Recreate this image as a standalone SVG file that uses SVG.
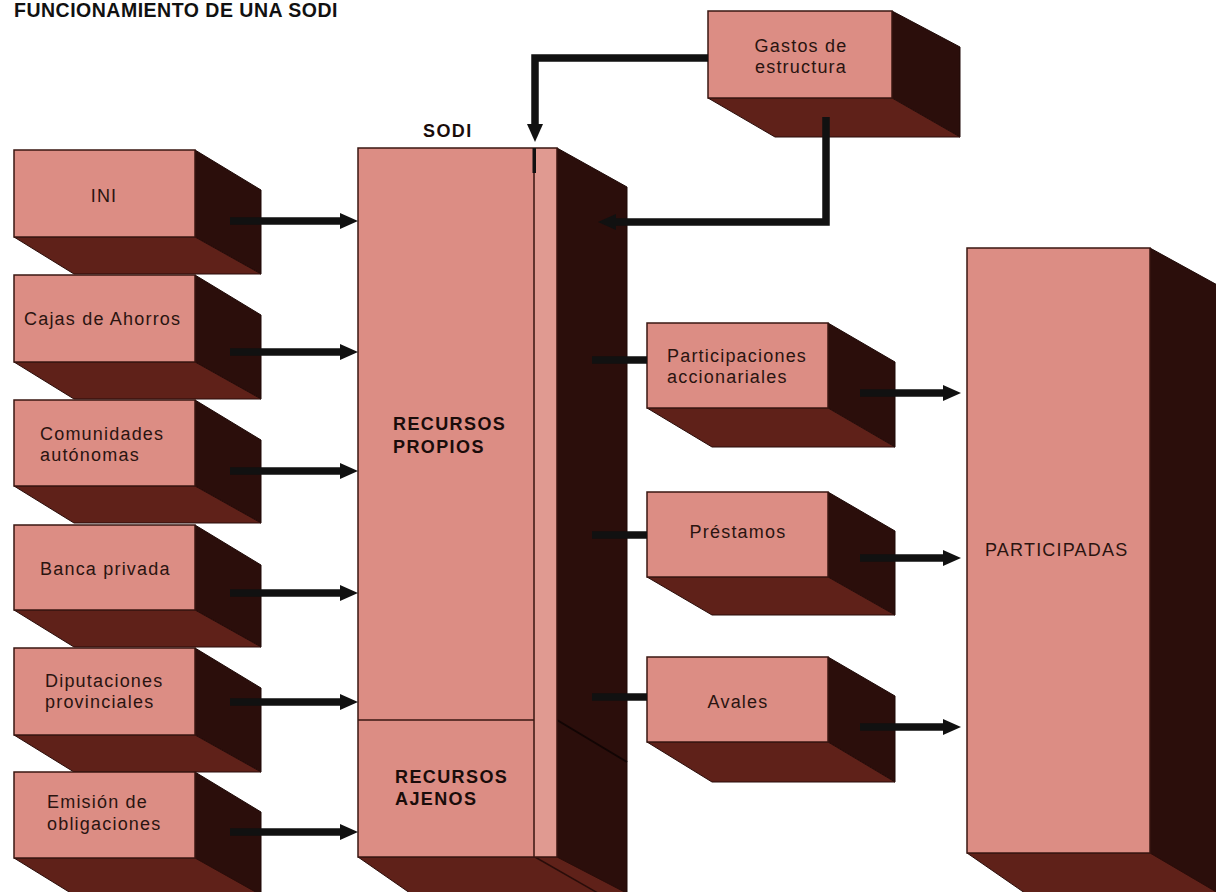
<svg xmlns="http://www.w3.org/2000/svg" width="1216" height="892" viewBox="0 0 1216 892">
<defs>
<style>
.front{fill:#dc8d84;stroke:#3a1712;stroke-width:1.5}
.side{fill:#2b0e0b;stroke:#1e0907;stroke-width:1}
.bottom{fill:#5f2119;stroke:#2a0d0a;stroke-width:1}
.lbl{font-family:"Liberation Sans",Arial,sans-serif;font-size:18px;fill:#2a1410;letter-spacing:1.2px}
.bold{font-family:"Liberation Sans",Arial,sans-serif;font-weight:bold;font-size:18px;fill:#1a0c0a;letter-spacing:1.4px}
.conn{fill:none;stroke:#111;stroke-width:7.5}
</style>
<marker id="ah" markerUnits="userSpaceOnUse" markerWidth="18" markerHeight="16" refX="0" refY="8" orient="auto">
<path d="M0,0 L18,8 L0,16 z" fill="#111"/>
</marker>
</defs>
<rect width="1216" height="892" fill="#ffffff"/>
<text x="14" y="17" font-family="Liberation Sans,Arial,sans-serif" font-weight="bold" font-size="19.5" letter-spacing="0.5" fill="#111">FUNCIONAMIENTO DE UNA SODI</text>

<g id="ini">
<polygon class="side" points="195,150 261,190 261,274 195,237"/>
<polygon class="bottom" points="14,237 195,237 261,274 74,274"/>
<rect class="front" x="14" y="150" width="181" height="87"/>
<text class="lbl" x="104" y="202" text-anchor="middle">INI</text>
</g>
<g id="cajas">
<polygon class="side" points="195,275 261,315 261,399 195,362"/>
<polygon class="bottom" points="14,362 195,362 261,399 74,399"/>
<rect class="front" x="14" y="275" width="181" height="87"/>
<text class="lbl" x="24" y="325">Cajas de Ahorros</text>
</g>
<g id="comunidades">
<polygon class="side" points="195,400 261,440 261,523 195,486"/>
<polygon class="bottom" points="14,486 195,486 261,523 74,523"/>
<rect class="front" x="14" y="400" width="181" height="86"/>
<text class="lbl" x="40" y="440">Comunidades</text>
<text class="lbl" x="40" y="461">autónomas</text>
</g>
<g id="banca">
<polygon class="side" points="195,525 261,565 261,647 195,610"/>
<polygon class="bottom" points="14,610 195,610 261,647 74,647"/>
<rect class="front" x="14" y="525" width="181" height="85"/>
<text class="lbl" x="40" y="575">Banca privada</text>
</g>
<g id="diputaciones">
<polygon class="side" points="195,648 261,688 261,772 195,735"/>
<polygon class="bottom" points="14,735 195,735 261,772 74,772"/>
<rect class="front" x="14" y="648" width="181" height="87"/>
<text class="lbl" x="45" y="687">Diputaciones</text>
<text class="lbl" x="45" y="708">provinciales</text>
</g>
<g id="emision">
<polygon class="side" points="195,772 261,812 261,900 195,858"/>
<polygon class="bottom" points="14,858 195,858 261,895 74,895"/>
<rect class="front" x="14" y="772" width="181" height="86"/>
<text class="lbl" x="47" y="808">Emisión de</text>
<text class="lbl" x="47" y="830">obligaciones</text>
</g>

<g id="sodi">
<polygon class="side" points="557,148 627,187 627,900 557,900"/>
<polygon class="bottom" points="358,857 557,857 640,900 420,900"/>
<line x1="535" y1="857" x2="610" y2="900" stroke="#2a0d0a" stroke-width="1.5"/>
<line x1="557" y1="720" x2="627" y2="762" stroke="#120504" stroke-width="2"/>
<rect class="front" x="358" y="148" width="199" height="709"/>
<rect x="535" y="149" width="21" height="707" fill="#e09a91"/>
<line x1="534" y1="148" x2="534" y2="857" stroke="#3a1712" stroke-width="1.5"/>
<rect x="532.5" y="148" width="3.5" height="25" fill="#111"/>
<line x1="358" y1="720" x2="534" y2="720" stroke="#3a1712" stroke-width="1.5"/>
<text class="bold" x="423" y="137" font-size="17">SODI</text>
<text class="bold" x="393" y="430">RECURSOS</text>
<text class="bold" x="393" y="453">PROPIOS</text>
<text class="bold" x="395" y="783">RECURSOS</text>
<text class="bold" x="395" y="805">AJENOS</text>
</g>

<g id="gastos">
<polygon class="side" points="892,11 960,47 960,137 892,98"/>
<polygon class="bottom" points="708,98 892,98 960,137 775,137"/>
<rect class="front" x="708" y="11" width="184" height="87"/>
<text class="lbl" x="801" y="52" text-anchor="middle">Gastos de</text>
<text class="lbl" x="801" y="73" text-anchor="middle">estructura</text>
</g>

<g id="participaciones">
<polygon class="side" points="828,323 895,362 895,447 828,408"/>
<polygon class="bottom" points="647,408 828,408 895,447 712,447"/>
<rect class="front" x="647" y="323" width="181" height="85"/>
<text class="lbl" x="667" y="362">Participaciones</text>
<text class="lbl" x="667" y="383">accionariales</text>
</g>
<g id="prestamos">
<polygon class="side" points="828,492 895,531 895,615 828,577"/>
<polygon class="bottom" points="647,577 828,577 895,615 712,615"/>
<rect class="front" x="647" y="492" width="181" height="85"/>
<text class="lbl" x="738" y="538" text-anchor="middle">Préstamos</text>
</g>
<g id="avales">
<polygon class="side" points="828,657 895,696 895,782 828,742"/>
<polygon class="bottom" points="647,742 828,742 895,782 712,782"/>
<rect class="front" x="647" y="657" width="181" height="85"/>
<text class="lbl" x="738" y="708" text-anchor="middle">Avales</text>
</g>

<g id="participadas">
<polygon class="side" points="1150,248 1230,292 1230,900 1150,900"/>
<polygon class="bottom" points="967,853 1150,853 1230,900 1035,900"/>
<rect class="front" x="967" y="248" width="183" height="605"/>
<text class="lbl" x="985" y="556" font-size="17.5">PARTICIPADAS</text>
</g>

<g id="connectors">
<path class="conn" d="M230,221 H340" marker-end="url(#ah)"/>
<path class="conn" d="M230,352 H340" marker-end="url(#ah)"/>
<path class="conn" d="M230,471 H340" marker-end="url(#ah)"/>
<path class="conn" d="M230,593 H340" marker-end="url(#ah)"/>
<path class="conn" d="M230,702 H340" marker-end="url(#ah)"/>
<path class="conn" d="M230,832 H340" marker-end="url(#ah)"/>
<path class="conn" d="M708,58 H535 V124" marker-end="url(#ah)"/>
<path class="conn" d="M826,117 V222 H616" marker-end="url(#ah)"/>
<path class="conn" d="M592,360 H647"/>
<path class="conn" d="M592,535 H647"/>
<path class="conn" d="M592,697 H647"/>
<path class="conn" d="M860,393 H943" marker-end="url(#ah)"/>
<path class="conn" d="M860,558 H943" marker-end="url(#ah)"/>
<path class="conn" d="M860,727 H943" marker-end="url(#ah)"/>
</g>
</svg>
